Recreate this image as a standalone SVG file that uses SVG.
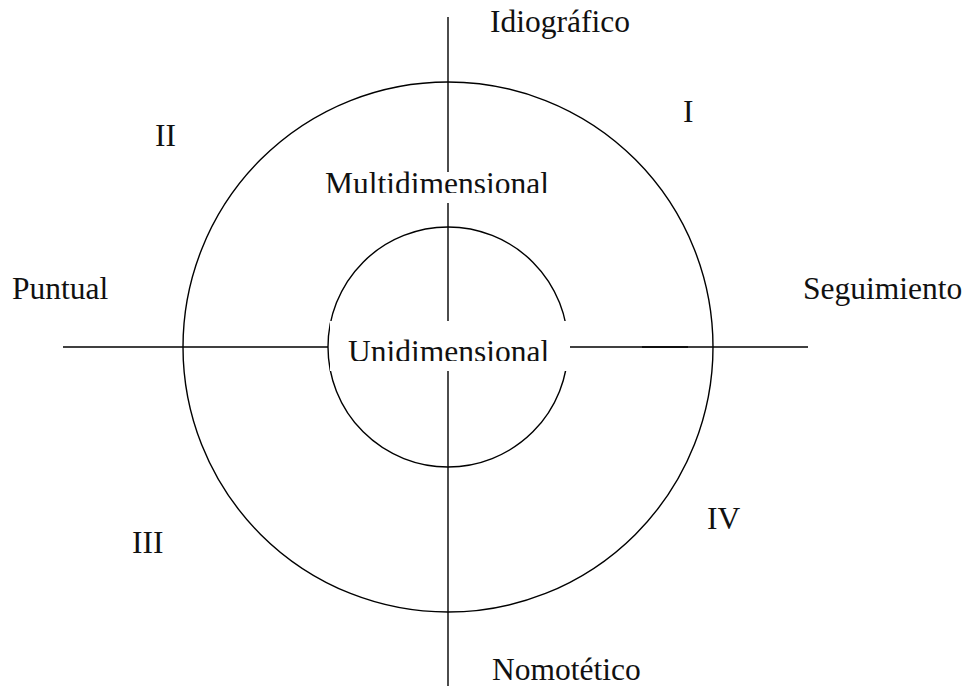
<svg xmlns="http://www.w3.org/2000/svg" width="972" height="690" viewBox="0 0 972 690">
<style>
.ln{stroke:#000;stroke-width:1.4;fill:none}
.t{font-family:"Liberation Serif","Times New Roman",serif;font-size:31.5px;fill:#111}
</style>
<defs>
<clipPath id="cm"><rect x="300" y="160" width="280" height="33"/></clipPath>
<clipPath id="cu"><rect x="330" y="321" width="240" height="40"/></clipPath>
</defs>
<rect width="972" height="690" fill="#fff"/>
<g id="outer-circle"><circle class="ln" cx="448" cy="347" r="265"/></g>
<g id="inner-circle"><circle class="ln" cx="448" cy="347" r="120"/></g>
<g id="connectors">
<line class="ln" x1="448" y1="17" x2="448" y2="172"/>
<line class="ln" x1="448" y1="203" x2="448" y2="321"/>
<line class="ln" x1="448" y1="371" x2="448" y2="686"/>
<line class="ln" x1="63" y1="347" x2="328" y2="347"/>
<line class="ln" x1="567" y1="347" x2="808" y2="347"/>
<line class="ln" x1="642" y1="347" x2="688" y2="347" stroke-width="2"/>
</g>
<g id="unidimensional">
<rect x="330" y="321" width="240" height="50" fill="#fff"/>
<text class="t" x="348" y="362" clip-path="url(#cu)">Unidimensional</text>
</g>
<g id="multidimensional">
<text class="t" x="325" y="194" clip-path="url(#cm)">Multidimensional</text>
</g>
<g id="idiografico"><text class="t" x="490" y="32">Idiográfico</text></g>
<g id="nomotetico"><text class="t" x="492" y="680">Nomotético</text></g>
<g id="puntual"><text class="t" x="12" y="299">Puntual</text></g>
<g id="seguimiento"><text class="t" x="803" y="299">Seguimiento</text></g>
<g id="q1"><text class="t" x="683" y="122">I</text></g>
<g id="q2"><text class="t" x="155" y="146">II</text></g>
<g id="q3"><text class="t" x="132" y="553">III</text></g>
<g id="q4"><text class="t" x="707" y="529">IV</text></g>
</svg>
